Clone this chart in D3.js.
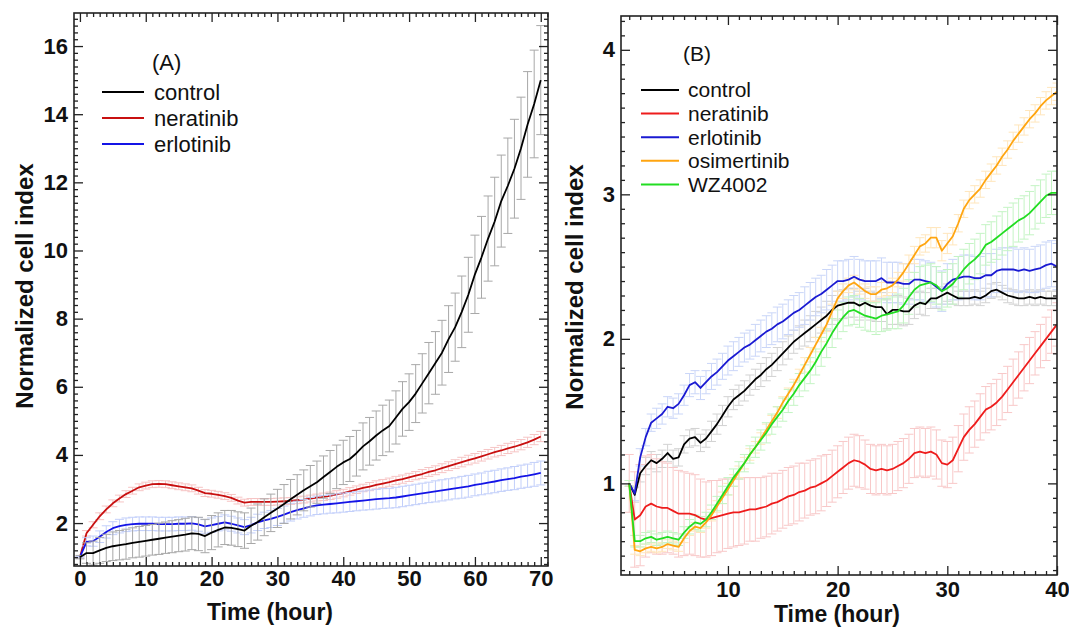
<!DOCTYPE html>
<html>
<head>
<meta charset="utf-8">
<script src="https://cdn.jsdelivr.net/npm/d3@7"></script>
<style>
  body { margin: 0; background: #fff; }
  svg { display: block; }
  text { font-family: "Liberation Sans", Arial, sans-serif; }
</style>
</head>
<body>
<svg id="chart" width="1069" height="627"></svg>
<script>
// ---- panel A data (hourly, 0..70 h) ----
var timeA = d3.range(0, 71);

var controlA = [
  1.0, 1.12, 1.12, 1.2, 1.27, 1.32, 1.35, 1.38, 1.42, 1.45,
  1.48, 1.51, 1.54, 1.57, 1.6, 1.63, 1.66, 1.7, 1.68, 1.62,
  1.72, 1.8, 1.87, 1.86, 1.82, 1.78, 1.92, 2.03, 2.17, 2.3,
  2.43, 2.56, 2.7, 2.83, 2.96, 3.08, 3.2, 3.35, 3.5, 3.65,
  3.78, 3.88, 4.05, 4.25, 4.4, 4.57, 4.72, 4.85, 5.1, 5.35,
  5.55, 5.8, 6.1, 6.4, 6.7, 7.0, 7.4, 7.75, 8.2, 8.7,
  9.3, 9.8, 10.35, 10.85, 11.45, 11.9, 12.4, 13.0, 13.7, 14.3,
  15.0
];
var controlSdA = [
  0.05, 0.3, 0.35, 0.38, 0.4, 0.42, 0.43, 0.44, 0.44, 0.45,
  0.45, 0.45, 0.46, 0.46, 0.47, 0.47, 0.48, 0.48, 0.49, 0.49,
  0.5, 0.5, 0.5, 0.51, 0.51, 0.52, 0.52, 0.53, 0.54, 0.55,
  0.56, 0.57, 0.58, 0.59, 0.6, 0.61, 0.62, 0.62, 0.63, 0.64,
  0.65, 0.66, 0.67, 0.69, 0.7, 0.72, 0.74, 0.76, 0.78, 0.8,
  0.83, 0.85, 0.87, 0.9, 0.92, 0.95, 0.98, 1.0, 1.05, 1.1,
  1.15, 1.2, 1.25, 1.3, 1.35, 1.4, 1.45, 1.5, 1.55, 1.58,
  1.6
];
var neratinibA = [
  1.0, 1.7, 1.95, 2.2, 2.4, 2.58, 2.72, 2.85, 2.95, 3.05,
  3.1, 3.14, 3.15, 3.14, 3.11, 3.08, 3.05, 3.02, 2.95, 2.88,
  2.86, 2.83, 2.79, 2.74, 2.66, 2.6, 2.62, 2.62, 2.62, 2.62,
  2.63, 2.64, 2.65, 2.67, 2.69, 2.72, 2.75, 2.77, 2.8, 2.84,
  2.88, 2.93, 2.98, 3.03, 3.07, 3.12, 3.16, 3.2, 3.25, 3.29,
  3.34, 3.39, 3.44, 3.5, 3.55, 3.61, 3.67, 3.73, 3.79, 3.85,
  3.9, 3.96, 4.02, 4.08, 4.13, 4.19, 4.24, 4.3, 4.37, 4.45,
  4.54
];
var neratinibSdA = [
  0.02, 0.08, 0.09, 0.1, 0.1, 0.1, 0.1, 0.1, 0.1, 0.1,
  0.1, 0.1, 0.1, 0.1, 0.1, 0.1, 0.1, 0.1, 0.1, 0.1,
  0.1, 0.1, 0.1, 0.1, 0.1, 0.1, 0.1, 0.1, 0.1, 0.1,
  0.1, 0.1, 0.1, 0.1, 0.1, 0.1, 0.1, 0.11, 0.11, 0.11,
  0.11, 0.11, 0.11, 0.11, 0.12, 0.12, 0.12, 0.12, 0.12, 0.12,
  0.12, 0.12, 0.13, 0.13, 0.13, 0.13, 0.13, 0.13, 0.14, 0.14,
  0.14, 0.14, 0.14, 0.14, 0.15, 0.15, 0.15, 0.15, 0.15, 0.15,
  0.15
];
var erlotinibA = [
  1.0, 1.45, 1.47, 1.6, 1.74, 1.85, 1.91, 1.95, 1.97, 1.98,
  1.98, 1.98, 1.97, 1.97, 1.97, 1.98, 1.98, 1.99, 1.96, 1.9,
  1.94, 1.98, 2.02, 1.98, 1.93, 1.88, 1.94, 2.02, 2.08, 2.12,
  2.18, 2.25, 2.32, 2.38, 2.43, 2.48, 2.52, 2.54, 2.56, 2.58,
  2.6, 2.62, 2.64, 2.66, 2.68, 2.7, 2.72, 2.73, 2.75, 2.78,
  2.81, 2.84, 2.87, 2.9, 2.93, 2.96, 2.99, 3.02, 3.05, 3.08,
  3.12, 3.15, 3.19, 3.22, 3.26, 3.29, 3.32, 3.36, 3.39, 3.43,
  3.47
];
var erlotinibSdA = [
  0.02, 0.12, 0.15, 0.17, 0.18, 0.19, 0.2, 0.2, 0.2, 0.2,
  0.2, 0.2, 0.2, 0.2, 0.2, 0.2, 0.2, 0.2, 0.2, 0.2,
  0.21, 0.21, 0.22, 0.22, 0.22, 0.22, 0.23, 0.24, 0.24, 0.25,
  0.25, 0.25, 0.26, 0.26, 0.26, 0.27, 0.27, 0.27, 0.27, 0.28,
  0.28, 0.28, 0.28, 0.28, 0.29, 0.29, 0.29, 0.29, 0.3, 0.3,
  0.3, 0.3, 0.3, 0.3, 0.31, 0.31, 0.31, 0.31, 0.32, 0.32,
  0.32, 0.32, 0.33, 0.33, 0.33, 0.33, 0.34, 0.34, 0.34, 0.35,
  0.35
];

// ---- panel B data (every half hour, 1..40 h) ----
var timeB = d3.range(1, 40.01, 0.5);

var controlB = [
  1.00, 0.92, 1.07, 1.12, 1.16, 1.14, 1.17, 1.21, 1.17, 1.18,
  1.27, 1.31, 1.32, 1.28, 1.31, 1.36, 1.41, 1.47, 1.53, 1.58,
  1.61, 1.64, 1.68, 1.72, 1.75, 1.79, 1.82, 1.86, 1.90, 1.94,
  1.98, 2.01, 2.04, 2.07, 2.10, 2.13, 2.16, 2.20, 2.23, 2.24,
  2.25, 2.25, 2.23, 2.25, 2.23, 2.22, 2.22, 2.17, 2.20, 2.20,
  2.19, 2.19, 2.23, 2.25, 2.24, 2.28, 2.28, 2.30, 2.32, 2.30,
  2.28, 2.28, 2.28, 2.29, 2.28, 2.30, 2.33, 2.34, 2.32, 2.30,
  2.29, 2.28, 2.28, 2.29, 2.28, 2.29, 2.28, 2.28, 2.28
];
var controlSdB = [
  0.02, 0.05, 0.06, 0.06, 0.06, 0.06, 0.06, 0.06, 0.06, 0.06,
  0.06, 0.06, 0.06, 0.06, 0.06, 0.07, 0.07, 0.07, 0.07, 0.07,
  0.07, 0.07, 0.07, 0.07, 0.08, 0.08, 0.08, 0.08, 0.08, 0.08,
  0.08, 0.08, 0.09, 0.09, 0.09, 0.09, 0.1, 0.1, 0.1, 0.1,
  0.1, 0.1, 0.1, 0.1, 0.1, 0.1, 0.1, 0.1, 0.1, 0.1,
  0.1, 0.09, 0.09, 0.08, 0.08, 0.07, 0.07, 0.06, 0.06, 0.06,
  0.05, 0.05, 0.05, 0.05, 0.05, 0.05, 0.05, 0.05, 0.05, 0.05,
  0.05, 0.05, 0.05, 0.05, 0.05, 0.05, 0.05, 0.05, 0.05
];
var neratinibB = [
  1.00, 0.75, 0.78, 0.84, 0.86, 0.84, 0.83, 0.83, 0.81, 0.79,
  0.79, 0.79, 0.78, 0.76, 0.75, 0.76, 0.77, 0.78, 0.79, 0.80,
  0.80, 0.81, 0.82, 0.82, 0.83, 0.84, 0.86, 0.87, 0.89, 0.91,
  0.92, 0.94, 0.95, 0.97, 0.98, 1.00, 1.02, 1.05, 1.08, 1.11,
  1.14, 1.16, 1.15, 1.13, 1.10, 1.09, 1.10, 1.09, 1.10, 1.12,
  1.14, 1.17, 1.21, 1.22, 1.21, 1.22, 1.20, 1.14, 1.13, 1.16,
  1.24, 1.32, 1.37, 1.41, 1.46, 1.51, 1.53, 1.56, 1.60, 1.65,
  1.70, 1.75, 1.80, 1.85, 1.90, 1.95, 2.00, 2.05, 2.10
];
var neratinibSdB = [
  0.2, 0.33, 0.35, 0.35, 0.34, 0.33, 0.32, 0.31, 0.3, 0.3,
  0.29, 0.28, 0.28, 0.27, 0.26, 0.26, 0.25, 0.25, 0.24, 0.24,
  0.23, 0.23, 0.22, 0.22, 0.21, 0.21, 0.21, 0.2, 0.2, 0.2,
  0.2, 0.2, 0.19, 0.19, 0.19, 0.19, 0.18, 0.18, 0.18, 0.18,
  0.18, 0.18, 0.18, 0.17, 0.17, 0.17, 0.17, 0.17, 0.17, 0.17,
  0.17, 0.17, 0.17, 0.17, 0.17, 0.17, 0.17, 0.16, 0.16, 0.16,
  0.16, 0.16, 0.16, 0.16, 0.16, 0.16, 0.16, 0.16, 0.16, 0.16,
  0.16, 0.16, 0.16, 0.16, 0.15, 0.15, 0.15, 0.15, 0.15
];
var erlotinibB = [
  1.00, 0.93, 1.18, 1.32, 1.42, 1.45, 1.48, 1.53, 1.52, 1.55,
  1.61, 1.68, 1.70, 1.66, 1.70, 1.74, 1.77, 1.81, 1.85, 1.88,
  1.91, 1.94, 1.96, 1.99, 2.02, 2.05, 2.07, 2.10, 2.12, 2.15,
  2.18, 2.20, 2.23, 2.26, 2.29, 2.31, 2.34, 2.37, 2.40, 2.40,
  2.41, 2.43, 2.41, 2.40, 2.40, 2.40, 2.42, 2.39, 2.39, 2.39,
  2.38, 2.38, 2.41, 2.41, 2.40, 2.39, 2.36, 2.33, 2.38, 2.41,
  2.42, 2.43, 2.43, 2.42, 2.42, 2.44, 2.44, 2.47, 2.48, 2.48,
  2.48, 2.47, 2.48, 2.47, 2.48, 2.49, 2.51, 2.52, 2.50
];
var erlotinibSdB = [
  0.02, 0.05, 0.06, 0.06, 0.06, 0.07, 0.07, 0.07, 0.07, 0.07,
  0.07, 0.08, 0.08, 0.08, 0.08, 0.09, 0.09, 0.09, 0.1, 0.1,
  0.1, 0.1, 0.1, 0.11, 0.11, 0.11, 0.11, 0.12, 0.12, 0.12,
  0.12, 0.12, 0.13, 0.13, 0.13, 0.13, 0.14, 0.14, 0.14, 0.14,
  0.14, 0.14, 0.14, 0.14, 0.14, 0.14, 0.14, 0.14, 0.14, 0.14,
  0.14, 0.14, 0.14, 0.14, 0.14, 0.14, 0.14, 0.14, 0.14, 0.14,
  0.15, 0.15, 0.15, 0.15, 0.15, 0.15, 0.15, 0.15, 0.15, 0.15,
  0.15, 0.15, 0.15, 0.15, 0.16, 0.16, 0.16, 0.16, 0.16
];
var osimertinibB = [
  1.00, 0.54, 0.53, 0.55, 0.56, 0.55, 0.56, 0.58, 0.57, 0.56,
  0.62, 0.67, 0.70, 0.69, 0.73, 0.78, 0.84, 0.90, 0.96, 1.02,
  1.08, 1.14, 1.20, 1.25, 1.31, 1.37, 1.43, 1.49, 1.56, 1.62,
  1.68, 1.75, 1.82, 1.89, 1.96, 2.03, 2.10, 2.19, 2.28, 2.33,
  2.37, 2.39, 2.36, 2.33, 2.31, 2.31, 2.34, 2.35, 2.37, 2.41,
  2.46, 2.52, 2.58, 2.64, 2.66, 2.70, 2.70, 2.61, 2.66, 2.71,
  2.80, 2.90, 2.96, 3.00, 3.04, 3.10, 3.15, 3.20, 3.26, 3.31,
  3.37, 3.42, 3.47, 3.52, 3.56, 3.61, 3.65, 3.68, 3.71
];
var osimertinibSdB = [
  0.02, 0.03, 0.03, 0.03, 0.03, 0.03, 0.03, 0.03, 0.03, 0.03,
  0.03, 0.03, 0.03, 0.03, 0.04, 0.04, 0.04, 0.04, 0.04, 0.04,
  0.04, 0.04, 0.04, 0.04, 0.04, 0.04, 0.04, 0.04, 0.04, 0.04,
  0.04, 0.04, 0.05, 0.05, 0.05, 0.05, 0.05, 0.05, 0.05, 0.05,
  0.05, 0.05, 0.05, 0.05, 0.05, 0.05, 0.05, 0.05, 0.05, 0.05,
  0.06, 0.06, 0.06, 0.06, 0.06, 0.07, 0.07, 0.07, 0.07, 0.06,
  0.06, 0.06, 0.06, 0.06, 0.06, 0.06, 0.06, 0.06, 0.06, 0.06,
  0.06, 0.06, 0.06, 0.06, 0.06, 0.06, 0.06, 0.06, 0.06
];
var wz4002B = [
  1.00, 0.60, 0.60, 0.62, 0.63, 0.61, 0.62, 0.63, 0.62, 0.61,
  0.66, 0.70, 0.73, 0.72, 0.75, 0.80, 0.86, 0.92, 0.98, 1.04,
  1.09, 1.14, 1.20, 1.25, 1.30, 1.35, 1.41, 1.46, 1.51, 1.57,
  1.62, 1.68, 1.73, 1.78, 1.84, 1.91, 1.97, 2.04, 2.10, 2.15,
  2.19, 2.20, 2.18, 2.16, 2.15, 2.14, 2.16, 2.17, 2.18, 2.19,
  2.23, 2.29, 2.34, 2.37, 2.38, 2.39, 2.37, 2.33, 2.35, 2.38,
  2.43, 2.48, 2.52, 2.55, 2.59, 2.65, 2.67, 2.70, 2.73, 2.76,
  2.79, 2.82, 2.84, 2.87, 2.91, 2.95, 2.99, 3.01, 3.01
];
var wz4002SdB = [
  0.02, 0.04, 0.04, 0.04, 0.04, 0.04, 0.04, 0.04, 0.04, 0.04,
  0.04, 0.05, 0.05, 0.05, 0.05, 0.05, 0.05, 0.06, 0.06, 0.06,
  0.06, 0.06, 0.06, 0.07, 0.07, 0.07, 0.07, 0.07, 0.08, 0.08,
  0.08, 0.08, 0.09, 0.09, 0.09, 0.1, 0.1, 0.1, 0.1, 0.1,
  0.1, 0.1, 0.1, 0.1, 0.1, 0.11, 0.11, 0.11, 0.11, 0.12,
  0.12, 0.12, 0.12, 0.13, 0.13, 0.13, 0.13, 0.13, 0.13, 0.14,
  0.14, 0.14, 0.14, 0.14, 0.14, 0.14, 0.14, 0.15, 0.15, 0.15,
  0.15, 0.15, 0.15, 0.15, 0.15, 0.15, 0.15, 0.15, 0.15
];

// tick labels
var xTicksA = [0, 10, 20, 30, 40, 50, 60, 70];
var yTicksA = [2, 4, 6, 8, 10, 12, 14, 16];
var xTicksB = [10, 20, 30, 40];
var yTicksB = [1, 2, 3, 4];

var svg = d3.select("#chart");

function minorTicks(lo, hi, step, majorStep) {
    var out = [];
    for (var v = Math.ceil(lo / step - 1e-9) * step; v <= hi + 1e-9; v += step) {
        var r = Math.round(v * 100) / 100;
        var m = r / majorStep;
        if (Math.abs(m - Math.round(m)) > 1e-6) out.push(r);
    }
    return out;
}

function drawPanel(p) {
    var x = d3.scaleLinear().domain(p.xDomain).range([p.left, p.right]);
    var y = d3.scaleLinear().domain(p.yDomain).range([p.bottom, p.top]);
    var g = svg.append("g");

    svg.append("clipPath").attr("id", "clip" + p.name)
        .append("rect")
        .attr("x", p.left).attr("y", p.top)
        .attr("width", p.right - p.left).attr("height", p.bottom - p.top);
    var plot = g.append("g").attr("clip-path", "url(#clip" + p.name + ")");

    var line = d3.line()
        .x(function (d) { return x(d.t); })
        .y(function (d) { return y(d.v); });

    function points(s) {
        return s.values.map(function (v, i) { return { t: p.times[i], v: v, sd: s.sd[i] }; });
    }
    function drawBars(s) {
        var w = p.capHalf;
        plot.append("g").selectAll("path")
            .data(points(s))
            .join("path")
            .attr("d", function (d) {
                var xx = x(d.t), y1 = y(d.v - d.sd), y2 = y(d.v + d.sd);
                return "M" + xx + "," + y1 + "V" + y2 +
                    "M" + (xx - w) + "," + y1 + "H" + (xx + w) +
                    "M" + (xx - w) + "," + y2 + "H" + (xx + w);
            })
            .attr("fill", "none")
            .attr("stroke", s.barColor)
            .attr("stroke-width", 1);
    }
    function drawLine(s) {
        plot.append("path")
            .datum(points(s))
            .attr("d", line)
            .attr("fill", "none")
            .attr("stroke", s.color)
            .attr("stroke-width", 1.8)
            .attr("stroke-linejoin", "round");
    }

    if (p.interleave) {
        p.drawOrder.forEach(function (i) { drawBars(p.series[i]); drawLine(p.series[i]); });
    } else {
        p.drawOrder.forEach(function (i) { drawBars(p.series[i]); });
        p.drawOrder.forEach(function (i) { drawLine(p.series[i]); });
    }

    // axes, ticks pointing inward on all four sides
    var xMinor = minorTicks(p.xDomain[0], p.xDomain[1], p.xMinorStep, p.xMajorStep);
    var yMinor = minorTicks(p.yDomain[0], p.yDomain[1], p.yMinorStep, p.yMajorStep);

    function styleAxis(sel) {
        sel.select(".domain").remove();
        sel.selectAll(".tick line").attr("stroke", "#222").attr("stroke-width", 1.3);
        sel.selectAll(".tick text")
            .attr("fill", "#111")
            .style("font-size", "22px")
            .style("font-weight", "bold");
    }

    g.append("g").attr("transform", "translate(0," + p.bottom + ")")
        .call(d3.axisBottom(x).tickValues(p.xTicks).tickSize(-9).tickPadding(p.xPad).tickFormat(d3.format("d")))
        .call(styleAxis);
    g.append("g").attr("transform", "translate(0," + p.bottom + ")")
        .call(d3.axisBottom(x).tickValues(xMinor).tickSize(-4).tickFormat(""))
        .call(styleAxis);
    g.append("g").attr("transform", "translate(0," + p.top + ")")
        .call(d3.axisTop(x).tickValues(p.xTicks).tickSize(-9).tickFormat(""))
        .call(styleAxis);
    g.append("g").attr("transform", "translate(0," + p.top + ")")
        .call(d3.axisTop(x).tickValues(xMinor).tickSize(-4).tickFormat(""))
        .call(styleAxis);

    g.append("g").attr("transform", "translate(" + p.left + ",0)")
        .call(d3.axisLeft(y).tickValues(p.yTicks).tickSize(-9).tickPadding(6).tickFormat(d3.format("d")))
        .call(styleAxis);
    g.append("g").attr("transform", "translate(" + p.left + ",0)")
        .call(d3.axisLeft(y).tickValues(yMinor).tickSize(-4).tickFormat(""))
        .call(styleAxis);
    g.append("g").attr("transform", "translate(" + p.right + ",0)")
        .call(d3.axisRight(y).tickValues(p.yTicks).tickSize(-9).tickFormat(""))
        .call(styleAxis);
    g.append("g").attr("transform", "translate(" + p.right + ",0)")
        .call(d3.axisRight(y).tickValues(yMinor).tickSize(-4).tickFormat(""))
        .call(styleAxis);

    g.append("rect")
        .attr("x", p.left).attr("y", p.top)
        .attr("width", p.right - p.left).attr("height", p.bottom - p.top)
        .attr("fill", "none").attr("stroke", "#222").attr("stroke-width", 1.6);

    // axis titles
    g.append("text")
        .attr("transform", "translate(" + p.yTitleX + "," + p.yTitleY + ") rotate(-90)")
        .attr("text-anchor", "middle")
        .attr("dy", "0.35em")
        .style("font-size", "24px").style("font-weight", "bold").attr("fill", "#111")
        .text("Normalized cell index");
    g.append("text")
        .attr("x", p.xTitleX).attr("y", p.xTitleY)
        .attr("text-anchor", "middle")
        .style("font-size", "23px").style("font-weight", "bold").attr("fill", "#111")
        .text("Time (hour)");

    // legend
    g.append("text")
        .attr("x", p.legend.labelX).attr("y", p.legend.labelY)
        .style("font-size", p.legend.fontSize + "px").attr("fill", "#111")
        .text(p.label);
    var rows = g.selectAll(".leg" + p.name).data(p.series).join("g")
        .attr("transform", function (d, i) { return "translate(0," + (p.legend.y0 + i * p.legend.dy) + ")"; });
    rows.append("line")
        .attr("x1", p.legend.x1).attr("x2", p.legend.x2)
        .attr("stroke", function (d) { return d.color; })
        .attr("stroke-width", 2);
    rows.append("text")
        .attr("x", p.legend.textX).attr("dy", "0.35em")
        .style("font-size", p.legend.fontSize + "px").attr("fill", "#111")
        .text(function (d) { return d.name; });
}

drawPanel({
    name: "A", label: "(A)",
    left: 74, right: 548, top: 13, bottom: 566,
    xDomain: [-0.9, 71.1], yDomain: [0.74, 16.97],
    xTicks: xTicksA, yTicks: yTicksA,
    xMajorStep: 10, xMinorStep: 1, yMajorStep: 2, yMinorStep: 0.2,
    xPad: 4, capHalf: 4.5,
    times: timeA,
    interleave: true, drawOrder: [1, 2, 0],
    series: [
        { name: "control", values: controlA, sd: controlSdA, color: "#000000", barColor: "#a8a8a8" },
        { name: "neratinib", values: neratinibA, sd: neratinibSdA, color: "#c81010", barColor: "#f6c4c4" },
        { name: "erlotinib", values: erlotinibA, sd: erlotinibSdA, color: "#1414e6", barColor: "#c2cffa" }
    ],
    yTitleX: 25, yTitleY: 286, xTitleX: 270, xTitleY: 620,
    legend: { labelX: 152, labelY: 70, x1: 102, x2: 144, textX: 154, y0: 92, dy: 26, fontSize: 22 }
});

drawPanel({
    name: "B", label: "(B)",
    left: 621, right: 1057, top: 16, bottom: 575,
    xDomain: [0.25, 40], yDomain: [0.366, 4.234],
    xTicks: xTicksB, yTicks: yTicksB,
    xMajorStep: 10, xMinorStep: 1, yMajorStep: 1, yMinorStep: 0.1,
    xPad: 6, capHalf: 4.5,
    times: timeB,
    interleave: false, drawOrder: [0, 1, 2, 3, 4],
    series: [
        { name: "control", values: controlB, sd: controlSdB, color: "#000000", barColor: "#d2d2d2" },
        { name: "neratinib", values: neratinibB, sd: neratinibSdB, color: "#ee1c1c", barColor: "#f8c8c8" },
        { name: "erlotinib", values: erlotinibB, sd: erlotinibSdB, color: "#1a1ad2", barColor: "#cad6f8" },
        { name: "osimertinib", values: osimertinibB, sd: osimertinibSdB, color: "#ffa510", barColor: "#ffe6bc" },
        { name: "WZ4002", values: wz4002B, sd: wz4002SdB, color: "#22dd22", barColor: "#c4f4c4" }
    ],
    yTitleX: 575, yTitleY: 287, xTitleX: 837, xTitleY: 622,
    legend: { labelX: 683, labelY: 61, x1: 641, x2: 679, textX: 688, y0: 90, dy: 23.6, fontSize: 21 }
});
</script>
</body>
</html>
